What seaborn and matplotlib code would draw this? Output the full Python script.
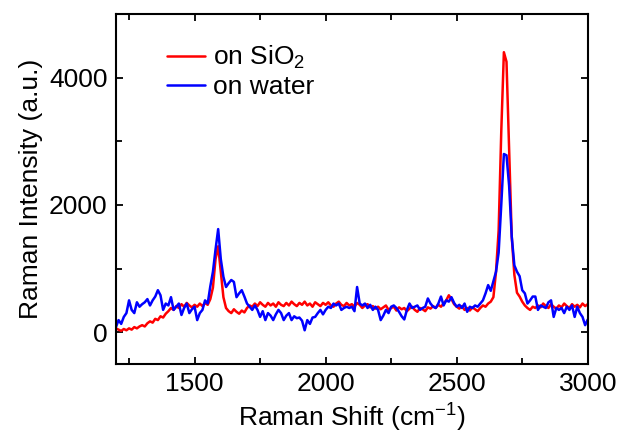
import numpy as np
import pandas as pd
import matplotlib
matplotlib.use("Agg")
import matplotlib.pyplot as plt
import seaborn as sns

# Raman shift grid (cm^-1), 10 cm^-1 steps from 1200 to 3000
shift = np.arange(1200, 3001, 10)

# intensities, one row per 100 cm^-1
on_sio2 = [
    60, 40, 20, 50, 30, 60, 40, 80, 60, 90,
    110, 90, 140, 170, 150, 210, 190, 250, 230, 290,
    330, 380, 350, 410, 380, 440, 400, 460, 420, 390,
    430, 400, 450, 410, 460, 430, 520, 700, 1150, 1350,
    950, 550, 380, 330, 300, 360, 320, 290, 340, 310,
    380, 420, 400, 450, 410, 470, 430, 400, 460, 420,
    450, 400, 470, 430, 410, 460, 420, 480, 440, 410,
    460, 430, 480, 420, 450, 400, 470, 440, 410, 460,
    430, 470, 420, 400, 450, 480, 430, 410, 460, 420,
    440, 400, 460, 430, 380, 420, 440, 390, 410, 370,
    400, 360, 390, 420, 350, 380, 400, 340, 390, 360,
    380, 330, 370, 400, 350, 320, 380, 360, 330, 390,
    370, 410, 380, 430, 400, 450, 500, 580, 520, 440,
    400, 370, 410, 350, 380, 340, 390, 360, 330, 380,
    420, 400, 450, 480, 550, 950, 1600, 3150, 4400, 4250,
    2850, 1500, 900, 620, 560, 480, 420, 380, 350, 400,
    380, 420, 390, 450, 410, 380, 440, 400, 370, 420,
    390, 450, 410, 380, 440, 400, 430, 390, 450, 410,
    440,
]

on_water = [
    80, 190, 130, 240, 300, 500, 350, 300, 470, 400,
    440, 470, 520, 420, 500, 560, 660, 580, 350, 450,
    420, 550, 350, 400, 450, 270, 380, 450, 300, 360,
    400, 190, 300, 350, 500, 450, 720, 950, 1300, 1620,
    1150, 870, 710, 770, 820, 790, 550, 610, 660, 560,
    450, 400, 350, 420, 350, 240, 330, 190, 300, 260,
    190, 280, 350, 300, 190, 260, 300, 190, 250, 220,
    230, 180, 30, 190, 130, 230, 240, 300, 350, 280,
    350, 400, 380, 450, 420, 450, 350, 380, 400, 380,
    400, 330, 710, 450, 420, 450, 380, 430, 350, 400,
    350, 190, 260, 350, 300, 400, 420, 380, 320, 250,
    200, 350, 450, 380, 400, 420, 350, 380, 400, 530,
    450, 400, 380, 450, 560, 420, 500, 480, 550, 460,
    400, 430, 380, 450, 320, 400, 380, 420, 400, 450,
    500, 610, 740, 650, 800, 950, 1250, 2000, 2800, 2780,
    2300, 1500, 1050, 950, 880, 660, 610, 450, 500, 560,
    560, 350, 420, 400, 380, 470, 500, 240, 380, 350,
    380, 300, 400, 350, 420, 240, 400, 300, 240, 110,
    200,
]

df = pd.DataFrame({"shift": shift, "sio2": on_sio2, "water": on_water})

sns.set_style("ticks")
plt.rcParams["font.family"] = ["Liberation Sans", "DejaVu Sans"]
plt.rcParams["mathtext.fontset"] = "custom"
plt.rcParams["mathtext.rm"] = "Liberation Sans"
plt.rcParams["mathtext.it"] = "Liberation Sans"
plt.rcParams["mathtext.default"] = "regular"
for k in ["text.color", "axes.labelcolor", "xtick.color", "ytick.color",
          "axes.edgecolor"]:
    plt.rcParams[k] = "black"

fig = plt.figure(figsize=(6.2, 4.34), dpi=100)
ax = fig.add_axes([0.187, 0.1613, 0.761, 0.8064])

sns.lineplot(data=df, x="shift", y="sio2", color="#ff0000", lw=1.8,
             label="on SiO$_2$", ax=ax)
sns.lineplot(data=df, x="shift", y="water", color="#0000ff", lw=1.8,
             label="on water", ax=ax)

ax.set_xlim(1200, 3000)
ax.set_ylim(-500, 5000)
ax.set_xticks([1500, 2000, 2500, 3000])
ax.set_xticks([1250, 1750, 2250, 2750], minor=True)
ax.set_yticks([0, 2000, 4000])
ax.set_yticks([1000, 3000], minor=True)
ax.tick_params(which="both", direction="in", top=True, right=True,
               width=1.3, labelsize=19, pad=6)
ax.tick_params(which="major", length=5)
ax.tick_params(which="minor", length=4)
for s in ax.spines.values():
    s.set_linewidth(1.5)

ax.set_xlabel("Raman Shift (cm$^{-1}$)", fontsize=19)
ax.set_ylabel("Raman Intensity (a.u.)", fontsize=19)

ax.legend(loc="upper left", bbox_to_anchor=(0.108, 0.915), frameon=False,
          fontsize=19, handlelength=1.45, handletextpad=0.3,
          labelspacing=0.15, borderpad=0, borderaxespad=0)

fig.savefig("out.png", dpi=100)
